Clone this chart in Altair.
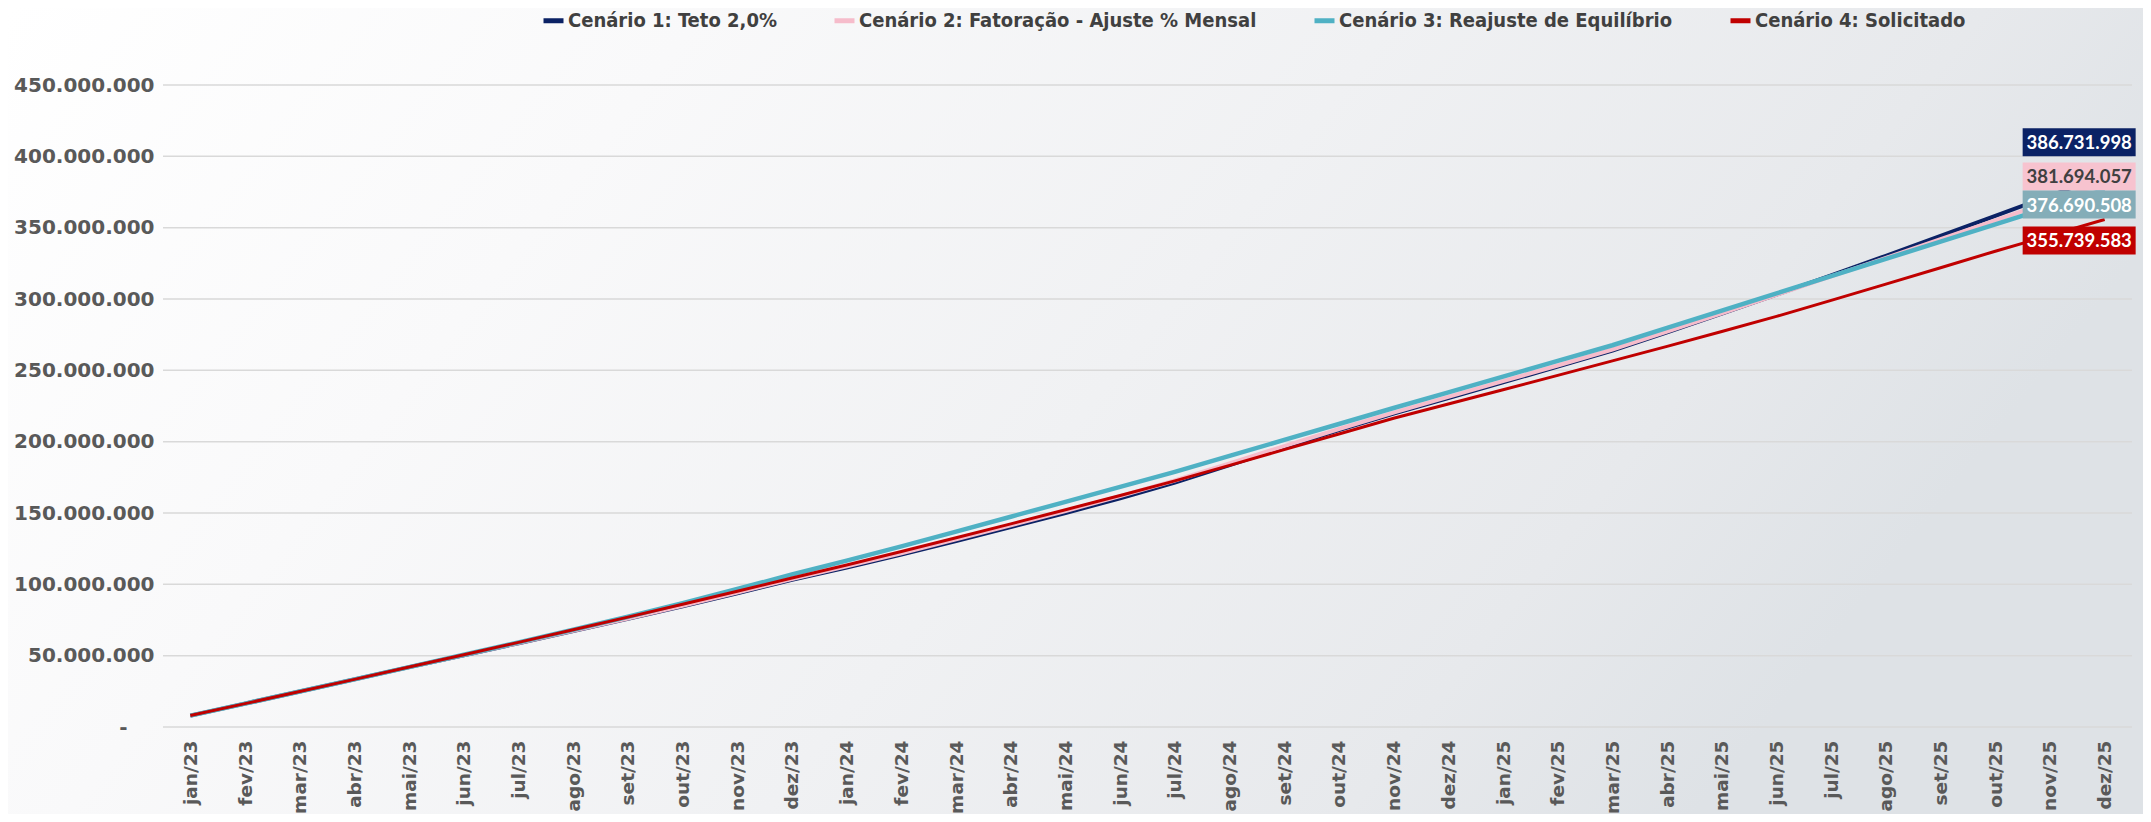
import altair as alt
import pandas as pd

MONTHS = ["jan/23", "fev/23", "mar/23", "abr/23", "mai/23", "jun/23", "jul/23", "ago/23", "set/23", "out/23", "nov/23", "dez/23",
          "jan/24", "fev/24", "mar/24", "abr/24", "mai/24", "jun/24", "jul/24", "ago/24", "set/24", "out/24", "nov/24", "dez/24",
          "jan/25", "fev/25", "mar/25", "abr/25", "mai/25", "jun/25", "jul/25", "ago/25", "set/25", "out/25", "nov/25", "dez/25"]

SERIES = ["Cenário 1: Teto 2,0%",
          "Cenário 2: Fatoração - Ajuste % Mensal",
          "Cenário 3: Reajuste de Equilíbrio",
          "Cenário 4: Solicitado"]

CEN1 = [8.0e6, 16.4e6, 24.9e6, 33.4e6, 42.0e6, 50.3e6, 58.7e6, 67.2e6, 75.8e6, 84.6e6, 93.7e6, 103.1e6,
        111.8e6, 120.8e6, 130.4e6, 140.1e6, 150.0e6, 160.3e6, 171.3e6, 183.5e6, 195.9e6, 208.1e6, 219.6e6, 230.6e6,
        241.6e6, 252.6e6, 263.8e6, 276.7e6, 289.8e6, 303.1e6, 316.6e6, 330.3e6, 344.2e6, 358.2e6, 372.3e6, 386731998]
CEN2 = [8.0e6, 16.4e6, 24.9e6, 33.4e6, 42.0e6, 50.4e6, 58.8e6, 67.4e6, 76.1e6, 85.0e6, 94.2e6, 103.7e6,
        112.6e6, 121.8e6, 131.5e6, 141.4e6, 151.4e6, 161.8e6, 172.8e6, 184.8e6, 196.9e6, 208.9e6, 220.4e6, 231.4e6,
        242.4e6, 253.4e6, 264.6e6, 277.2e6, 290.0e6, 302.9e6, 315.8e6, 328.9e6, 342.0e6, 355.1e6, 368.3e6, 381694057]
CEN3 = [8.0e6, 16.4e6, 24.9e6, 33.4e6, 42.0e6, 50.6e6, 59.3e6, 68.2e6, 77.3e6, 86.8e6, 96.7e6, 106.9e6,
        116.6e6, 126.6e6, 137.0e6, 147.4e6, 157.8e6, 168.3e6, 178.8e6, 190.0e6, 201.2e6, 212.4e6, 223.6e6, 234.6e6,
        245.6e6, 256.6e6, 267.6e6, 279.7e6, 291.8e6, 303.9e6, 316.0e6, 328.1e6, 340.2e6, 352.3e6, 364.4e6, 376690508]
CEN4 = [8.0e6, 16.4e6, 24.9e6, 33.4e6, 42.0e6, 50.6e6, 59.3e6, 68.2e6, 77.0e6, 86.0e6, 95.2e6, 104.4e6,
        113.6e6, 123.0e6, 132.6e6, 142.4e6, 152.3e6, 162.3e6, 172.5e6, 183.4e6, 194.4e6, 205.4e6, 216.4e6, 226.4e6,
        236.4e6, 246.5e6, 256.6e6, 266.8e6, 277.2e6, 287.8e6, 299.0e6, 310.4e6, 321.9e6, 333.5e6, 344.6e6, 355739583]

Y_TICKS = [0, 50e6, 100e6, 150e6, 200e6, 250e6, 300e6, 350e6, 400e6, 450e6]

# styles
LINE_COLORS = ["#0B2265", "#F6BCCB", "#4FB1C4", "#C00000"]
LINE_WIDTHS = [4, 4, 4.5, 3]
BOX_COLORS = ["#0B2265", "#F7C3CF", "#84ADB8", "#C00000"]
BOX_TEXT = ["#FFFFFF", "#404040", "#FFFFFF", "#FFFFFF"]
LABEL_DY = [-33, -6, 15, 21]

W, H = 1969, 642
PAD = {"left": 155, "top": 77, "right": 11, "bottom": 87}

series_values = [CEN1, CEN2, CEN3, CEN4]
rows = []
for s, vals in zip(SERIES, series_values):
    for m, v in zip(MONTHS, vals):
        rows.append({"mes": m, "cenario": s, "valor": v})
df = pd.DataFrame(rows)

x_enc = alt.X("mes:N", sort=MONTHS,
              axis=alt.Axis(title=None, labelAngle=270, labelFont="DejaVu Sans", labelFontWeight="bold",
                            labelFontSize=18.5, labelColor="#595959", labelPadding=13, ticks=False,
                            domain=False, grid=False, zindex=1))
y_axis = alt.Axis(title=None, values=Y_TICKS, grid=False, domain=False, ticks=False, zindex=1,
                  labelFont="DejaVu Sans", labelFontWeight="bold",
                  labelFontSize=20, labelColor="#595959",
                  labelPadding={"condition": {"test": "datum.value == 0", "value": 36}, "value": 9},
                  labelExpr="datum.value == 0 ? '-' : replace(format(datum.value, ',.0f'), regexp(',', 'g'), '.')")
y_enc = alt.Y("valor:Q", scale=alt.Scale(domain=[0, 450e6], nice=False), axis=y_axis)

color_scale = alt.Scale(domain=SERIES, range=LINE_COLORS)
legend = alt.Legend(title=None, orient="none", legendX=378, legendY=-77, direction="horizontal", columns=4,
                    symbolType="stroke", symbolStrokeWidth=5, symbolSize=400,
                    labelFont="DejaVu Sans Condensed, Lato, sans-serif", labelFontWeight="bold",
                    labelFontSize=20, labelColor="#404040", columnPadding=47, labelOffset=2, labelLimit=0)

bg = alt.Chart(pd.DataFrame({"a": [0]})).mark_rect(
    color=alt.LinearGradient(gradient="linear", x1=0, y1=0, x2=1, y2=0.3,
                             stops=[alt.GradientStop(color="#FFFFFF", offset=0),
                                    alt.GradientStop(color="#F9F9FA", offset=0.3),
                                    alt.GradientStop(color="#F0F1F3", offset=0.6),
                                    alt.GradientStop(color="#E7E9EC", offset=0.85),
                                    alt.GradientStop(color="#DEE2E6", offset=1)])
).encode(x=alt.value(-PAD["left"]), x2=alt.value(W + PAD["right"]),
         y=alt.value(-PAD["top"]), y2=alt.value(H + PAD["bottom"]))

grid = alt.Chart(pd.DataFrame({"valor": Y_TICKS})).mark_rule(color="#D9D9D9", strokeWidth=1.5).encode(
    y=y_enc, x=alt.value(0), x2=alt.value(W)
)

layers = [bg, grid]
for i, s in enumerate(SERIES):
    layers.append(
        alt.Chart(df[df.cenario == s]).mark_line(strokeWidth=LINE_WIDTHS[i]).encode(
            x=x_enc, y=y_enc,
            color=alt.Color("cenario:N", scale=color_scale, legend=legend)
        )
    )

end = pd.DataFrame({
    "mes": [MONTHS[-1]] * 4,
    "cenario": SERIES,
    "valor": [v[-1] for v in series_values],
    "rotulo": [f"{v[-1]:,.0f}".replace(",", ".") for v in series_values],
    "box": BOX_COLORS,
    "txt": BOX_TEXT,
})

box_path = "M-1,-0.248L1,-0.248L1,0.248L-1,0.248Z"
for i, s in enumerate(SERIES):
    d = end[end.cenario == s]
    layers.append(
        alt.Chart(d).mark_point(shape=box_path, size=113 ** 2, filled=True, opacity=1, strokeWidth=0,
                                xOffset=-25.5, yOffset=LABEL_DY[i]).encode(
            x=x_enc, y=y_enc, fill=alt.Fill("box:N", scale=None)
        )
    )
    layers.append(
        alt.Chart(d).mark_text(font="Lato", fontWeight="bold", fontSize=18.5, align="center", baseline="middle",
                               xOffset=-25.5, yOffset=LABEL_DY[i] + 1).encode(
            x=x_enc, y=y_enc, text="rotulo:N", fill=alt.Fill("txt:N", scale=None)
        )
    )

chart = alt.layer(*layers).properties(
    width=W, height=H, autosize=alt.AutoSizeParams(type="none"), padding=PAD
).configure(background="#FFFFFF").configure_view(stroke=None)

chart.save("out.html", embed_options={"renderer": "svg", "actions": False})
